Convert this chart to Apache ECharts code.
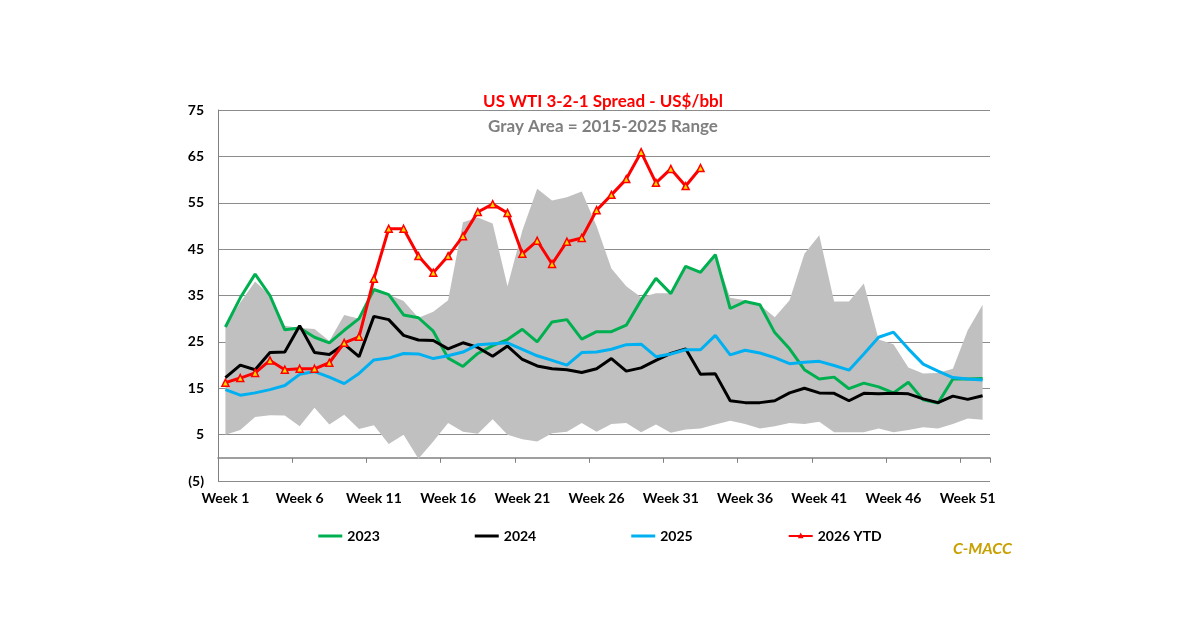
<!DOCTYPE html>
<html>
<head>
<meta charset="utf-8">
<script src="https://cdn.jsdelivr.net/npm/echarts@6/dist/echarts.min.js"></script>
<style>html,body{margin:0;background:#fff}#main{width:1200px;height:627px}</style>
</head>
<body>
<div id="main"></div>
<script>
var weeks = [];
for (var i = 1; i <= 52; i++) weeks.push('Week ' + i);

var yTicks = [-5, 5, 15, 25, 35, 45, 55, 65, 75];

var s2023 = [28.2,34.5,39.6,35,27.6,28,26,24.8,27.5,30,36.3,35.2,30.8,30.2,27.3,21.5,19.7,22.5,24.2,25.5,27.7,25,29.3,29.8,25.6,27.2,27.2,28.6,34,38.7,35.4,41.3,40,43.8,32.2,33.7,33,27,23.5,19,17,17.4,14.9,16.1,15.3,14,16.3,12.5,11.8,17,17,17.1];
var s2024 = [17.3,20,19,22.7,22.8,28.5,22.7,22.3,24.5,21.8,30.5,29.8,26.4,25.4,25.3,23.5,24.8,23.8,21.9,24.1,21.2,19.8,19.2,19,18.4,19.2,21.4,18.7,19.4,21,22.5,23.5,18,18.1,12.3,11.9,11.9,12.3,14,15,14,13.9,12.3,13.9,13.8,13.9,13.8,12.7,11.9,13.3,12.6,13.4];
var s2025 = [14.7,13.5,14,14.7,15.6,18,18.6,17.4,16,18.2,21.1,21.5,22.5,22.4,21.4,22,22.8,24.4,24.6,24.8,23.4,22,21,20,22.7,22.8,23.4,24.4,24.5,21.8,22.4,23.3,23.3,26.4,22.2,23.2,22.6,21.6,20.3,20.6,20.8,19.9,18.9,22.4,26,27.1,23.5,20.2,18.7,17.3,17,16.8];
var s2026 = [16.2,17.2,18.3,21,19,19.2,19.2,20.5,24.8,26.1,38.6,49.4,49.4,43.5,39.9,43.5,47.8,53,54.7,52.8,44,46.8,41.8,46.6,47.4,53.4,56.7,60.1,65.9,59.3,62.3,58.6,62.5];
var rangeHigh = [28.2,33.5,38,35,28.5,28,27.8,25.2,30.8,30,36.3,35.2,33.8,30.2,31.5,34,50.8,51.8,50.5,37,49,58,55.5,56.2,57.4,50,40.8,37,34.6,35.5,35.5,41.2,40,43.8,34.5,34,33,30.3,34,44,48,33.7,33.7,37.6,25.5,24.5,19.5,18.2,18.3,19.2,27.5,33];
var rangeLow = [5,6,8.8,9.2,9.1,6.8,10.8,7.2,9.3,6.2,7,3,5,-0.2,3.5,7.5,5.6,5.2,8.3,5,4,3.5,5.3,5.6,7.5,5.6,7.3,7.5,5.5,7.2,5.4,6.1,6.3,7.2,8,7.3,6.3,6.8,7.5,7.3,7.8,5.5,5.5,5.5,6.3,5.5,6,6.6,6.3,7.3,8.5,8.2];

var rangeSpan = rangeHigh.map(function (h, i) { return +(h - rangeLow[i]).toFixed(2); });

var myChart = echarts.init(document.getElementById('main'));
var font = 'Lato, "Noto Sans", sans-serif';

function line(name, data, color) {
    return {
        name: name, type: 'line', data: data, symbol: 'none',
        lineStyle: { color: color, width: 3 }, itemStyle: { color: color }, z: 5
    };
}

var option = {
    animation: false,
    textStyle: { fontFamily: font },
    title: [{
        text: 'US WTI 3-2-1 Spread - US$/bbl', left: 598, top: 88, textAlign: 'center',
        textStyle: { color: '#ff0000', fontSize: 17, fontWeight: 'bold', fontFamily: font }
    }, {
        text: 'Gray Area = 2015-2025 Range', left: 598, top: 113, textAlign: 'center',
        textStyle: { color: '#7f7f7f', fontSize: 17, fontWeight: 'bold', fontFamily: font }
    }, {
        text: 'C-MACC', left: 948, top: 536,
        textStyle: { color: '#c9a000', fontSize: 16, fontWeight: 'bold', fontStyle: 'italic', fontFamily: font }
    }],
    legend: {
        top: 524, left: 'center', itemGap: 95, itemWidth: 24, itemHeight: 3,
        data: [
            { name: '2023', icon: 'rect' },
            { name: '2024', icon: 'rect' },
            { name: '2025', icon: 'rect' },
            { name: '2026 YTD' }
        ],
        textStyle: { fontSize: 14, fontWeight: 'bold', color: '#000' }
    },
    grid: { left: 218, right: 210, top: 110, bottom: 146 },
    xAxis: [{
        type: 'category', data: weeks, boundaryGap: true,
        axisLine: { onZero: true, lineStyle: { color: '#808080', width: 1.5 } },
        axisTick: { show: true, length: 5, inside: false, lineStyle: { color: '#808080' } },
        axisLabel: { show: false }, splitLine: { show: false }
    }, {
        type: 'category', data: weeks, boundaryGap: true, position: 'bottom',
        axisLine: { show: false }, axisTick: { show: false },
        axisLabel: {
            interval: 4, margin: 10, color: '#000', fontSize: 14, fontWeight: 'bold'
        }
    }],
    yAxis: {
        type: 'value', min: -5, max: 75, interval: 10,
        axisLine: { show: true, lineStyle: { color: '#808080' } },
        axisTick: { show: false },
        splitLine: { lineStyle: { color: '#8c8c8c', width: 1 } },
        axisLabel: {
            color: '#000', fontSize: 14, fontWeight: 'bold', margin: 14,
            formatter: function (v) { return v < 0 ? '(' + (-v) + ')' : v; }
        }
    },
    series: [
        {
            name: 'low', type: 'line', data: rangeLow, stack: 'range', stackStrategy: 'all',
            symbol: 'none', lineStyle: { opacity: 0 }, silent: true, z: 1
        },
        {
            name: 'range', type: 'line', data: rangeSpan, stack: 'range', stackStrategy: 'all',
            symbol: 'none', lineStyle: { opacity: 0 }, areaStyle: { color: '#c0c0c0', opacity: 1 },
            silent: true, z: 1
        },
        line('2023', s2023, '#00b050'),
        line('2024', s2024, '#000000'),
        line('2025', s2025, '#00b0f0'),
        {
            name: '2026 YTD', type: 'line', data: s2026, z: 6,
            symbol: 'triangle', symbolSize: 7,
            lineStyle: { color: '#ff0000', width: 3 },
            itemStyle: { color: '#ffd700', borderColor: '#ff0000', borderWidth: 1.5 }
        }
    ]
};
myChart.setOption(option);
</script>
</body>
</html>
